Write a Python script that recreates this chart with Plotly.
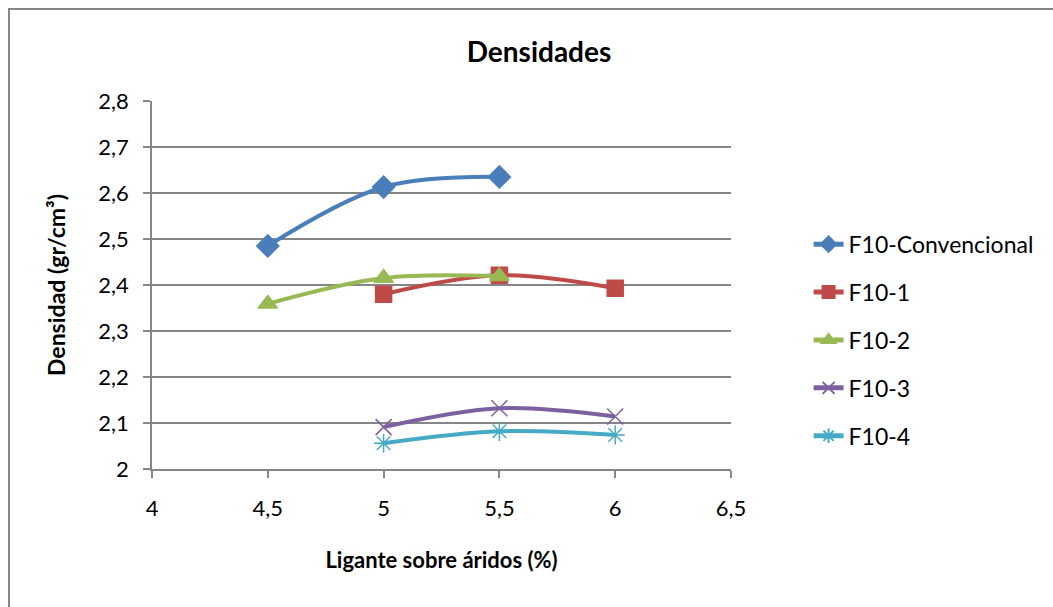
import plotly.graph_objects as go

# Ligante sobre áridos (%) vs densidad (gr/cm³)
series_names = ["F10-Convencional", "F10-1", "F10-2", "F10-3", "F10-4"]
x_conv = [4.5, 5.0, 5.5]
y_conv = [2.485, 2.613, 2.635]
x_f1 = [5.0, 5.5, 6.0]
y_f1 = [2.380, 2.421, 2.393]
x_f2 = [4.5, 5.0, 5.5]
y_f2 = [2.359, 2.415, 2.419]
x_f3 = [5.0, 5.5, 6.0]
y_f3 = [2.091, 2.132, 2.114]
x_f4 = [5.0, 5.5, 6.0]
y_f4 = [2.056, 2.082, 2.074]

x_tickvals = [4, 4.5, 5, 5.5, 6, 6.5]
x_ticktext = ["4", "4,5", "5", "5,5", "6", "6,5"]
y_tickvals = [2.0, 2.1, 2.2, 2.3, 2.4, 2.5, 2.6, 2.7, 2.8]
y_ticktext = ["2", "2,1", "2,2", "2,3", "2,4", "2,5", "2,6", "2,7", "2,8"]

colors = ["#4A7EBB", "#BE4B48", "#98B954", "#7D60A0", "#46AAC5"]
symbols = ["diamond", "square", "triangle-up", "x-thin-open", "asterisk-open"]
sizes = [17, 16, 17, 16, 16]
xs = [x_conv, x_f1, x_f2, x_f3, x_f4]
ys = [y_conv, y_f1, y_f2, y_f3, y_f4]

FONT = "Lato, 'Open Sans', sans-serif"

fig = go.Figure()
for i, (name, x, y, c, s, sz) in enumerate(zip(series_names, xs, ys, colors, symbols, sizes)):
    fig.add_trace(go.Scatter(
        x=x, y=y, name=name, mode="lines+markers", legendgroup=f"g{i}",
        line=dict(color=c, width=4, shape="spline", smoothing=1.0),
        marker=dict(symbol=s, size=sz, color=c, line=dict(color=c, width=1.5)),
    ))

grid = "#868686"
fig.update_layout(
    width=1053, height=607,
    margin=dict(l=152, r=322, t=101, b=138),
    paper_bgcolor="white", plot_bgcolor="white",
    font=dict(family=FONT, size=22, color="black"),
    title=dict(text="<b>Densidades</b>", x=(539 / 1053), xanchor="center",
               y=1 - 52 / 607, yanchor="middle", font=dict(size=28)),
    xaxis=dict(range=[4, 6.5], tickvals=x_tickvals, ticktext=x_ticktext,
               showgrid=False, zeroline=False, showline=True, linecolor=grid,
               linewidth=1.5, ticks="outside", ticklen=7, tickcolor=grid,
               tickwidth=1.5, tickfont=dict(size=22), ticklabelstandoff=12,
               title=dict(text="<b>Ligante sobre áridos (%)</b>", font=dict(size=22),
                          standoff=32)),
    yaxis=dict(range=[2, 2.8], tickvals=y_tickvals, ticktext=y_ticktext,
               showgrid=True, gridcolor=grid, gridwidth=1.5, zeroline=False,
               showline=True, linecolor=grid, linewidth=1.5, ticks="outside",
               ticklen=7, tickcolor=grid, tickwidth=1.5, tickfont=dict(size=22),
               ticklabelstandoff=10,
               title=dict(text="<b>Densidad (gr/cm³)</b>", font=dict(size=23),
                          standoff=26)),
    legend=dict(x=1.134, xanchor="left", y=0.35, yanchor="middle",
                font=dict(size=23), itemsizing="constant", tracegroupgap=15,
                bgcolor="rgba(0,0,0,0)"),
    showlegend=True,
)

# chart-area frame
fig.add_shape(type="rect", xref="paper", yref="paper",
              x0=(9 - 152) / 579, x1=(1070 - 152) / 579,
              y0=(469 - 640) / 368, y1=(469 - 9) / 368,
              line=dict(color="#868686", width=2), fillcolor="rgba(0,0,0,0)",
              layer="below")

fig.write_html("out.html")
